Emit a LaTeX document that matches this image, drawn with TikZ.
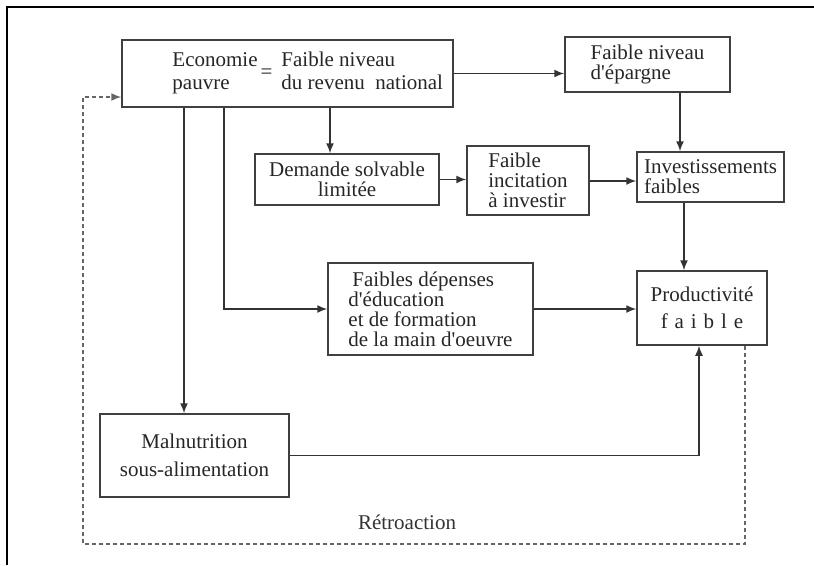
\documentclass[tikz,border=0pt]{standalone}
\usepackage{fontspec}
\setmainfont{Liberation Serif}
\usetikzlibrary{arrows.meta}

\tikzstyle{block} = [rectangle, draw=black!75, line width=1.5pt, inner sep=2pt,
text=black!85, font=\fontsize{21}{20}\selectfont]
\tikzstyle{line} = [draw=black!80, line width=1.5pt, -{Latex[length=10pt,width=8pt]}]
\tikzstyle{retro} = [draw=black!60, line width=1.5pt, dash pattern=on 4pt off 3pt]

\begin{document}
\begin{tikzpicture}[x=1pt, y=-1pt, auto]
	\useasboundingbox (0,0) rectangle (814,565);
	%Frame
	\draw [line width=2pt] (814,7) -- (7,7) -- (7,565);

	%Nodes
	\node [block, minimum width=331pt, minimum height=67pt, text width=311pt, inner xsep=10pt, align=flush right] (eco) at (287.5,73.5)
		{\begin{tabular}{@{}l@{}}Economie\\[3pt]pauvre\end{tabular}\hspace{3pt}=\hspace{9pt}\begin{tabular}{@{}l@{}}Faible niveau\\[3pt]du revenu\ \ national\end{tabular}};

	\node [block, minimum width=165pt, minimum height=55pt, align=left] (epargne) at (647.5,64.5) {Faible niveau\\d\textquotesingle épargne};

	\node [block, minimum width=184pt, minimum height=51pt, align=center] (demande) at (347,179.5) {Demande solvable\\limitée};

	\node [block, minimum width=122pt, minimum height=69pt, align=left] (incit) at (528,180.5) {Faible\\incitation\\à investir};

	\node [block, minimum width=147pt, minimum height=50pt, align=left] (invest) at (710.5,177) {Investissements\\faibles};

	\node [block, minimum width=205pt, minimum height=92pt, align=left] (depenses) at (430.5,309)
		{\hspace*{4pt}Faibles dépenses\\d\textquotesingle éducation\\et de formation\\de la main d\textquotesingle oeuvre};

	\node [block, minimum width=130pt, minimum height=74pt, align=center] (prod) at (702,308)
		{Productivité\\[7pt]{\spaceskip=.33em f a i b l e}};

	\node [block, minimum width=189pt, minimum height=83pt, align=center] (malnut) at (194.5,455.5) {Malnutrition\\[8pt]sous-alimentation};

	\node [text=black!80, font=\fontsize{21}{20}\selectfont] (retro) at (407,522) {Rétroaction};

	%Lines
	\path [line] (eco.east) -- (eco.east -| epargne.west);
	\path [line] (epargne.south -| 680,0) -- (invest.north -| 680,0);
	\path [line] (eco.south -| 330,0) -- (demande.north -| 330,0);
	\path [line] (demande.east) -- (demande.east -| incit.west);
	\path [line] (incit.east |- 0,181) -- (invest.west |- 0,181);
	\path [line] (invest.south -| 684,0) -- (prod.north -| 684,0);
	\path [line] (eco.south -| 184,0) -- (malnut.north -| 184,0);
	\path [line] (eco.south -| 224,0) |- (depenses.west);
	\path [line] (depenses.east) -- (depenses.east -| prod.west);
	\path [line] (malnut.east) -| (prod.south -| 699,0);
	%\path [line] (prod) -- (eco);
	\draw [retro, -{Latex[length=10pt,width=8pt]}] (prod.south -| 745,0) |- (83,544) |- (eco.west |- 0,97);
\end{tikzpicture}
\end{document}
